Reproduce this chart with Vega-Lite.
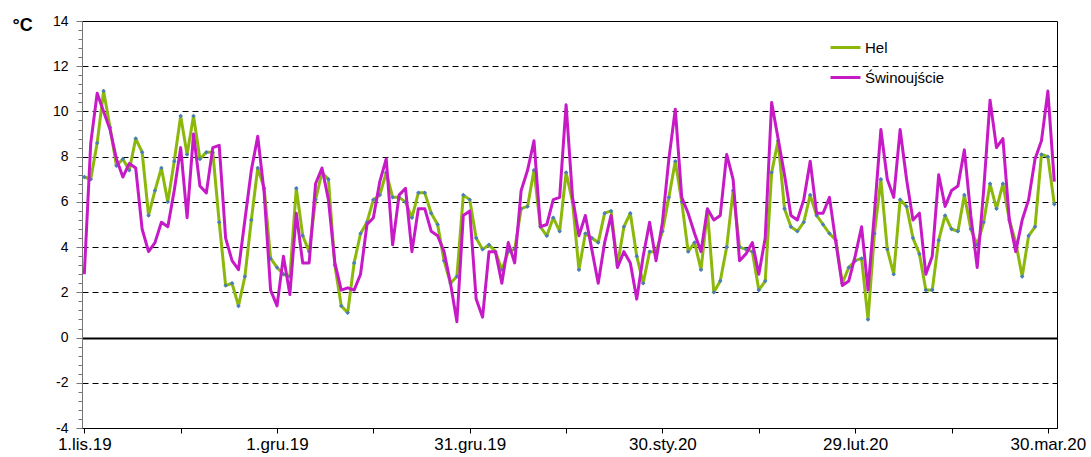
{
 "$schema": "https://vega.github.io/schema/vega-lite/v6.json",
 "width": 975, "height": 407,
 "autosize": {"type": "none"},
 "padding": {"left": 82, "top": 21, "right": 34, "bottom": 29},
 "background": "white",
 "config": {"font": "Liberation Sans", "view": {"stroke": "#000", "strokeWidth": 1}},
 "data": {"values": [
{"date":"2019-11-01","Hel":7.1,"Świnoujście":2.8},
{"date":"2019-11-02","Hel":7.0,"Świnoujście":8.6},
{"date":"2019-11-03","Hel":8.6,"Świnoujście":10.8},
{"date":"2019-11-04","Hel":10.9,"Świnoujście":10.0},
{"date":"2019-11-05","Hel":9.3,"Świnoujście":9.2},
{"date":"2019-11-06","Hel":7.6,"Świnoujście":7.9},
{"date":"2019-11-07","Hel":7.9,"Świnoujście":7.1},
{"date":"2019-11-08","Hel":7.4,"Świnoujście":7.7},
{"date":"2019-11-09","Hel":8.8,"Świnoujście":7.5},
{"date":"2019-11-10","Hel":8.2,"Świnoujście":4.8},
{"date":"2019-11-11","Hel":5.4,"Świnoujście":3.8},
{"date":"2019-11-12","Hel":6.5,"Świnoujście":4.2},
{"date":"2019-11-13","Hel":7.5,"Świnoujście":5.1},
{"date":"2019-11-14","Hel":6.0,"Świnoujście":4.9},
{"date":"2019-11-15","Hel":7.8,"Świnoujście":6.5},
{"date":"2019-11-16","Hel":9.8,"Świnoujście":8.4},
{"date":"2019-11-17","Hel":8.1,"Świnoujście":5.3},
{"date":"2019-11-18","Hel":9.8,"Świnoujście":9.0},
{"date":"2019-11-19","Hel":7.9,"Świnoujście":6.7},
{"date":"2019-11-20","Hel":8.2,"Świnoujście":6.4},
{"date":"2019-11-21","Hel":8.2,"Świnoujście":8.4},
{"date":"2019-11-22","Hel":5.1,"Świnoujście":8.5},
{"date":"2019-11-23","Hel":2.3,"Świnoujście":4.4},
{"date":"2019-11-24","Hel":2.4,"Świnoujście":3.4},
{"date":"2019-11-25","Hel":1.4,"Świnoujście":3.0},
{"date":"2019-11-26","Hel":2.7,"Świnoujście":5.2},
{"date":"2019-11-27","Hel":5.2,"Świnoujście":7.4},
{"date":"2019-11-28","Hel":7.5,"Świnoujście":8.9},
{"date":"2019-11-29","Hel":6.6,"Świnoujście":6.4},
{"date":"2019-11-30","Hel":3.5,"Świnoujście":2.1},
{"date":"2019-12-01","Hel":3.1,"Świnoujście":1.4},
{"date":"2019-12-02","Hel":2.8,"Świnoujście":3.6},
{"date":"2019-12-03","Hel":2.7,"Świnoujście":1.9},
{"date":"2019-12-04","Hel":6.6,"Świnoujście":5.5},
{"date":"2019-12-05","Hel":4.5,"Świnoujście":3.3},
{"date":"2019-12-06","Hel":3.8,"Świnoujście":3.3},
{"date":"2019-12-07","Hel":6.1,"Świnoujście":6.8},
{"date":"2019-12-08","Hel":7.3,"Świnoujście":7.5},
{"date":"2019-12-09","Hel":7.0,"Świnoujście":6.1},
{"date":"2019-12-10","Hel":3.2,"Świnoujście":3.3},
{"date":"2019-12-11","Hel":1.4,"Świnoujście":2.1},
{"date":"2019-12-12","Hel":1.1,"Świnoujście":2.2},
{"date":"2019-12-13","Hel":3.3,"Świnoujście":2.1},
{"date":"2019-12-14","Hel":4.6,"Świnoujście":2.8},
{"date":"2019-12-15","Hel":5.1,"Świnoujście":5.0},
{"date":"2019-12-16","Hel":6.1,"Świnoujście":5.3},
{"date":"2019-12-17","Hel":6.3,"Świnoujście":6.9},
{"date":"2019-12-18","Hel":7.3,"Świnoujście":7.9},
{"date":"2019-12-19","Hel":6.2,"Świnoujście":4.1},
{"date":"2019-12-20","Hel":6.2,"Świnoujście":6.3},
{"date":"2019-12-21","Hel":6.0,"Świnoujście":6.6},
{"date":"2019-12-22","Hel":5.3,"Świnoujście":3.8},
{"date":"2019-12-23","Hel":6.4,"Świnoujście":5.7},
{"date":"2019-12-24","Hel":6.4,"Świnoujście":5.7},
{"date":"2019-12-25","Hel":5.5,"Świnoujście":4.7},
{"date":"2019-12-26","Hel":5.0,"Świnoujście":4.5},
{"date":"2019-12-27","Hel":3.4,"Świnoujście":3.8},
{"date":"2019-12-28","Hel":2.4,"Świnoujście":2.4},
{"date":"2019-12-29","Hel":2.7,"Świnoujście":0.7},
{"date":"2019-12-30","Hel":6.3,"Świnoujście":5.4},
{"date":"2019-12-31","Hel":6.1,"Świnoujście":5.6},
{"date":"2020-01-01","Hel":4.4,"Świnoujście":1.7},
{"date":"2020-01-02","Hel":3.9,"Świnoujście":0.9},
{"date":"2020-01-03","Hel":4.1,"Świnoujście":3.8},
{"date":"2020-01-04","Hel":3.8,"Świnoujście":3.8},
{"date":"2020-01-05","Hel":3.0,"Świnoujście":2.4},
{"date":"2020-01-06","Hel":3.8,"Świnoujście":4.2},
{"date":"2020-01-07","Hel":3.9,"Świnoujście":3.3},
{"date":"2020-01-08","Hel":5.7,"Świnoujście":6.5},
{"date":"2020-01-09","Hel":5.8,"Świnoujście":7.4},
{"date":"2020-01-10","Hel":7.4,"Świnoujście":8.7},
{"date":"2020-01-11","Hel":4.9,"Świnoujście":4.9},
{"date":"2020-01-12","Hel":4.5,"Świnoujście":5.0},
{"date":"2020-01-13","Hel":5.3,"Świnoujście":6.1},
{"date":"2020-01-14","Hel":4.7,"Świnoujście":6.2},
{"date":"2020-01-15","Hel":7.3,"Świnoujście":10.3},
{"date":"2020-01-16","Hel":6.0,"Świnoujście":6.2},
{"date":"2020-01-17","Hel":3.0,"Świnoujście":4.5},
{"date":"2020-01-18","Hel":4.6,"Świnoujście":5.4},
{"date":"2020-01-19","Hel":4.4,"Świnoujście":3.9},
{"date":"2020-01-20","Hel":4.2,"Świnoujście":2.4},
{"date":"2020-01-21","Hel":5.5,"Świnoujście":4.2},
{"date":"2020-01-22","Hel":5.6,"Świnoujście":5.4},
{"date":"2020-01-23","Hel":3.2,"Świnoujście":3.1},
{"date":"2020-01-24","Hel":4.9,"Świnoujście":3.8},
{"date":"2020-01-25","Hel":5.5,"Świnoujście":3.3},
{"date":"2020-01-26","Hel":3.6,"Świnoujście":1.7},
{"date":"2020-01-27","Hel":2.4,"Świnoujście":3.6},
{"date":"2020-01-28","Hel":3.8,"Świnoujście":5.1},
{"date":"2020-01-29","Hel":3.8,"Świnoujście":3.4},
{"date":"2020-01-30","Hel":4.7,"Świnoujście":5.1},
{"date":"2020-01-31","Hel":6.2,"Świnoujście":7.9},
{"date":"2020-02-01","Hel":7.8,"Świnoujście":10.1},
{"date":"2020-02-02","Hel":6.0,"Świnoujście":6.2},
{"date":"2020-02-03","Hel":3.8,"Świnoujście":5.5},
{"date":"2020-02-04","Hel":4.2,"Świnoujście":4.6},
{"date":"2020-02-05","Hel":3.0,"Świnoujście":3.8},
{"date":"2020-02-06","Hel":5.6,"Świnoujście":5.7},
{"date":"2020-02-07","Hel":2.0,"Świnoujście":5.2},
{"date":"2020-02-08","Hel":2.5,"Świnoujście":5.4},
{"date":"2020-02-09","Hel":4.0,"Świnoujście":8.1},
{"date":"2020-02-10","Hel":6.5,"Świnoujście":7.0},
{"date":"2020-02-11","Hel":4.0,"Świnoujście":3.4},
{"date":"2020-02-12","Hel":3.9,"Świnoujście":3.7},
{"date":"2020-02-13","Hel":3.8,"Świnoujście":4.2},
{"date":"2020-02-14","Hel":2.1,"Świnoujście":2.8},
{"date":"2020-02-15","Hel":2.5,"Świnoujście":4.4},
{"date":"2020-02-16","Hel":7.3,"Świnoujście":10.4},
{"date":"2020-02-17","Hel":8.7,"Świnoujście":8.8},
{"date":"2020-02-18","Hel":5.7,"Świnoujście":7.2},
{"date":"2020-02-19","Hel":4.9,"Świnoujście":5.4},
{"date":"2020-02-20","Hel":4.7,"Świnoujście":5.2},
{"date":"2020-02-21","Hel":5.1,"Świnoujście":6.1},
{"date":"2020-02-22","Hel":6.3,"Świnoujście":7.8},
{"date":"2020-02-23","Hel":5.4,"Świnoujście":5.5},
{"date":"2020-02-24","Hel":5.0,"Świnoujście":5.5},
{"date":"2020-02-25","Hel":4.6,"Świnoujście":6.2},
{"date":"2020-02-26","Hel":4.3,"Świnoujście":4.2},
{"date":"2020-02-27","Hel":2.4,"Świnoujście":2.3},
{"date":"2020-02-28","Hel":3.1,"Świnoujście":2.5},
{"date":"2020-02-29","Hel":3.4,"Świnoujście":3.6},
{"date":"2020-03-01","Hel":3.5,"Świnoujście":4.9},
{"date":"2020-03-02","Hel":0.8,"Świnoujście":2.1},
{"date":"2020-03-03","Hel":4.6,"Świnoujście":5.5},
{"date":"2020-03-04","Hel":7.0,"Świnoujście":9.2},
{"date":"2020-03-05","Hel":3.9,"Świnoujście":7.0},
{"date":"2020-03-06","Hel":2.8,"Świnoujście":6.2},
{"date":"2020-03-07","Hel":6.1,"Świnoujście":9.2},
{"date":"2020-03-08","Hel":5.8,"Świnoujście":7.0},
{"date":"2020-03-09","Hel":4.4,"Świnoujście":5.2},
{"date":"2020-03-10","Hel":3.7,"Świnoujście":5.5},
{"date":"2020-03-11","Hel":2.1,"Świnoujście":2.8},
{"date":"2020-03-12","Hel":2.1,"Świnoujście":3.6},
{"date":"2020-03-13","Hel":4.3,"Świnoujście":7.2},
{"date":"2020-03-14","Hel":5.4,"Świnoujście":5.8},
{"date":"2020-03-15","Hel":4.8,"Świnoujście":6.5},
{"date":"2020-03-16","Hel":4.7,"Świnoujście":6.7},
{"date":"2020-03-17","Hel":6.3,"Świnoujście":8.3},
{"date":"2020-03-18","Hel":4.8,"Świnoujście":5.4},
{"date":"2020-03-19","Hel":4.1,"Świnoujście":3.1},
{"date":"2020-03-20","Hel":5.1,"Świnoujście":6.5},
{"date":"2020-03-21","Hel":6.8,"Świnoujście":10.5},
{"date":"2020-03-22","Hel":5.7,"Świnoujście":8.4},
{"date":"2020-03-23","Hel":6.8,"Świnoujście":8.8},
{"date":"2020-03-24","Hel":5.2,"Świnoujście":5.2},
{"date":"2020-03-25","Hel":4.2,"Świnoujście":3.8},
{"date":"2020-03-26","Hel":2.7,"Świnoujście":5.2},
{"date":"2020-03-27","Hel":4.5,"Świnoujście":6.1},
{"date":"2020-03-28","Hel":4.9,"Świnoujście":7.9},
{"date":"2020-03-29","Hel":8.1,"Świnoujście":8.7},
{"date":"2020-03-30","Hel":8.0,"Świnoujście":10.9},
{"date":"2020-03-31","Hel":5.9,"Świnoujście":6.9}
 ]},
 "transform": [{"fold": ["Hel", "Świnoujście"], "as": ["station", "temp"]}],
 "encoding": {
  "x": {"field": "date", "type": "temporal",
   "scale": {"type": "utc", "domain": [1572535296000, 1585649088000]},
   "axis": {"title": null, "grid": false,
    "values": [1572566400000, 1573862400000, 1575158400000, 1576454400000, 1577750400000, 1579046400000, 1580342400000, 1581638400000, 1582934400000, 1584230400000, 1585526400000],
    "labelExpr": "round((datum.value - 1572566400000)/86400000) % 30 == 0 ? utcFormat(datum.value, '%-d') + '.' + ['sty','lut','mar','kwi','maj','cze','lip','sie','wrz','paź','lis','gru'][utcmonth(datum.value)] + '.' + utcFormat(datum.value, '%y') : ''",
    "tickSize": 5, "tickColor": "#000", "domainColor": "#000",
    "labelFontSize": 17, "labelColor": "#000", "labelPadding": 3,
    "labelOverlap": false, "labelFlush": false}},
  "y": {"field": "temp", "type": "quantitative",
   "scale": {"domain": [-4, 14], "nice": false, "zero": false},
   "axis": {
    "values": [-4,-3.6,-3.2,-2.8,-2.4,-2,-1.6,-1.2,-0.8,-0.4,0,0.4,0.8,1.2,1.6,2,2.4,2.8,3.2,3.6,4,4.4,4.8,5.2,5.6,6,6.4,6.8,7.2,7.6,8,8.4,8.8,9.2,9.6,10,10.4,10.8,11.2,11.6,12,12.4,12.8,13.2,13.6,14],
    "title": "°C", "titleAngle": 0, "titleFontSize": 18, "titleFontWeight": "bold", "titleColor": "#000",
    "titleX": -70, "titleY": 4, "titleAlign": "left", "titleBaseline": "middle",
    "labelExpr": "abs(datum.value/2 - round(datum.value/2)) < 0.001 ? '' + round(datum.value) : ''",
    "labelFontSize": 14, "labelColor": "#000", "labelPadding": 8, "labelOverlap": false,
    "tickSize": {"condition": {"test": "abs(datum.value/2 - round(datum.value/2)) < 0.001", "value": 6}, "value": 4},
    "tickColor": "#777", "domainColor": "#777",
    "grid": true,
    "gridColor": "#000",
    "gridOpacity": {"condition": {"test": "abs(datum.value/2 - round(datum.value/2)) < 0.001 && datum.value > -3.9 && datum.value < 13.9", "value": 1}, "value": 0},
    "gridDash": {"condition": {"test": "abs(datum.value) < 0.01", "value": []}, "value": [6, 4]},
    "gridWidth": {"condition": {"test": "abs(datum.value) < 0.01", "value": 2}, "value": 1}
   }}
 },
 "layer": [
  {"transform": [{"filter": "datum.station == 'Hel'"}],
   "mark": {"type": "line", "strokeWidth": 3, "strokeJoin": "round"},
   "encoding": {"color": {"field": "station", "type": "nominal",
     "scale": {"domain": ["Hel", "Świnoujście"], "range": ["#8CB80C", "#C71AC7"]},
     "legend": {"title": null, "orient": "none", "legendX": 747, "legendY": 10, "symbolType": "stroke", "symbolSize": 900, "symbolStrokeWidth": 3, "labelFontSize": 15, "labelColor": "#000", "rowPadding": 5, "labelOffset": 3, "padding": 0}}}},
  {"transform": [{"filter": "datum.station == 'Hel'"}],
   "mark": {"type": "point", "shape": "diamond", "filled": true, "size": 20, "color": "#4A7EBB", "opacity": 1}},
  {"transform": [{"filter": "datum.station != 'Hel'"}],
   "mark": {"type": "line", "strokeWidth": 3, "strokeJoin": "round"},
   "encoding": {"color": {"field": "station", "type": "nominal"}}}
 ]
}
